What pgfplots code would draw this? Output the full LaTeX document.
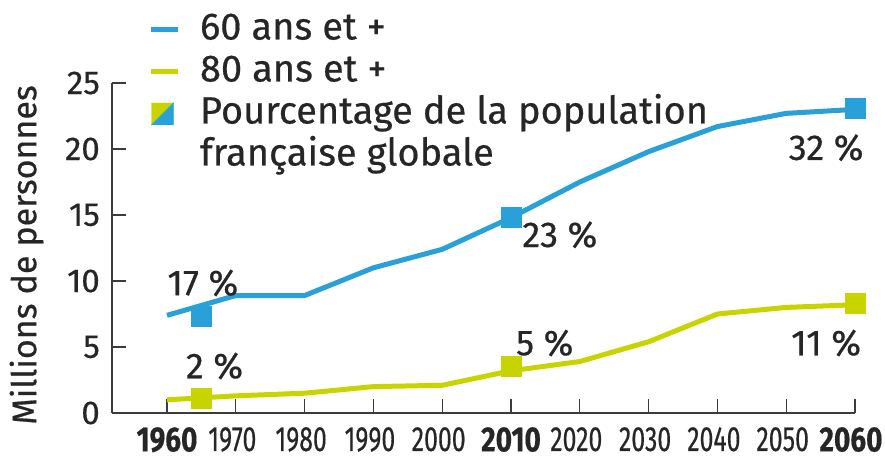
\documentclass[border=0pt]{standalone}
\usepackage{fontspec}
\setmainfont{Fira Sans}[FakeBold=0.5]
\usepackage{pgfplots}
\pgfplotsset{compat=1.18}
\definecolor{bl}{RGB}{41,160,216}
\definecolor{yl}{RGB}{200,212,0}
\definecolor{ax}{RGB}{60,60,60}
\newcommand{\yr}[1]{\scalebox{0.71}[1]{#1}\hspace*{7pt}}
\newcommand{\yb}[1]{\scalebox{0.80}[1]{\textbf{#1}}}
\begin{document}
\begin{tikzpicture}[x=1pt,y=1pt]
\path[use as bounding box] (0,0) rectangle (885,459);
\begin{axis}[
  at={(112pt,46pt)}, anchor=south west,
  scale only axis, width=743pt, height=330pt,
  xmin=1952, xmax=2060, ymin=0, ymax=25,
  axis lines*=left,
  axis line style={line width=1.5pt, color=ax},
  tick style={line width=1.3pt, color=ax},
  major tick length=14pt, tick align=inside,
  xtick={1960,1970,...,2060},
  xticklabels={\yb{1960},\yr{1970},\yr{1980},\yr{1990},\yr{2000},\yb{2010},\yr{2020},\yr{2030},\yr{2040},\yr{2050},\yb{2060}\hspace*{8pt}},
  ytick={0,5,...,25},
  /pgf/number format/assume math mode=true,
  x tick label style={font=\fontsize{35}{36}\selectfont, inner sep=0pt, yshift=-14pt, text=black!85},
  y tick label style={font=\fontsize{33}{34}\selectfont, inner sep=0pt, xshift=-12pt, text=black!85},
  ylabel={Millions de personnes},
  ylabel style={at={(axis description cs:-0.115,0.479)}, anchor=center, font=\fontsize{34}{35}\selectfont, text=black!85},
  clip=false,
  legend cell align=left,
  legend style={at={(axis description cs:0.0485,1.2167)}, anchor=north west,
    draw=none, fill=none, inner sep=0pt, outer sep=0pt,
    font=\fontsize{38}{40}\selectfont, text=black!85,
    row sep=5pt,
    nodes={inner sep=0pt, text height=28pt, text depth=9pt},
    /tikz/every odd column/.append style={column sep=20pt}},
]
\addplot[color=bl, line width=5pt, line join=round, legend image code/.code={\draw[bl, line width=5pt] (0pt,0pt) -- (27pt,0pt);}]
  coordinates {(1960,7.4) (1970,8.9) (1980,8.9) (1990,11.0) (2000,12.4) (2010,14.8) (2020,17.5) (2030,19.8) (2040,21.7) (2050,22.7) (2060,23.0)};
\addlegendentry{60 ans et +}
\addplot[color=yl, line width=5pt, line join=round, legend image code/.code={\draw[yl, line width=5pt] (0pt,0pt) -- (27pt,0pt);}]
  coordinates {(1960,1.0) (1970,1.3) (1980,1.5) (1990,2.0) (2000,2.1) (2010,3.2) (2020,3.9) (2030,5.4) (2040,7.5) (2050,8.0) (2060,8.2)};
\addlegendentry{80 ans et +}
\addplot[bl, forget plot, only marks, mark=square*, mark size=10pt, mark options={fill=bl, draw=bl, line width=0pt}]
  coordinates {(1965,7.3) (2010,14.8) (2060,23.1)};
\addplot[yl, forget plot, only marks, mark=square*, mark size=10pt, mark options={fill=yl, draw=yl, line width=0pt}]
  coordinates {(1965,1.1) (2010,3.5) (2060,8.3)};
\addlegendimage{legend image code/.code={\fill[yl] (1pt,-11pt) -- (1pt,11pt) -- (23pt,11pt) -- cycle; \fill[bl] (1pt,-11pt) -- (23pt,-11pt) -- (23pt,11pt) -- cycle;}}
\addlegendentry{Pourcentage de la population}
\addlegendimage{empty legend}
\addlegendentry{française globale}
\begin{scope}[every node/.style={font=\fontsize{36}{38}\selectfont, text=black!85, inner sep=0pt}]
\node at (axis cs:1965.2,9.85) {17 \%};
\node at (axis cs:1966.9,3.56) {2 \%};
\node at (axis cs:2014.9,5.3) {5 \%};
\node at (axis cs:2017.1,13.5) {23 \%};
\node at (axis cs:2055.8,20.1) {32 \%};
\node at (axis cs:2055.8,5.3) {11 \%};
\end{scope}
\end{axis}
\end{tikzpicture}
\end{document}
